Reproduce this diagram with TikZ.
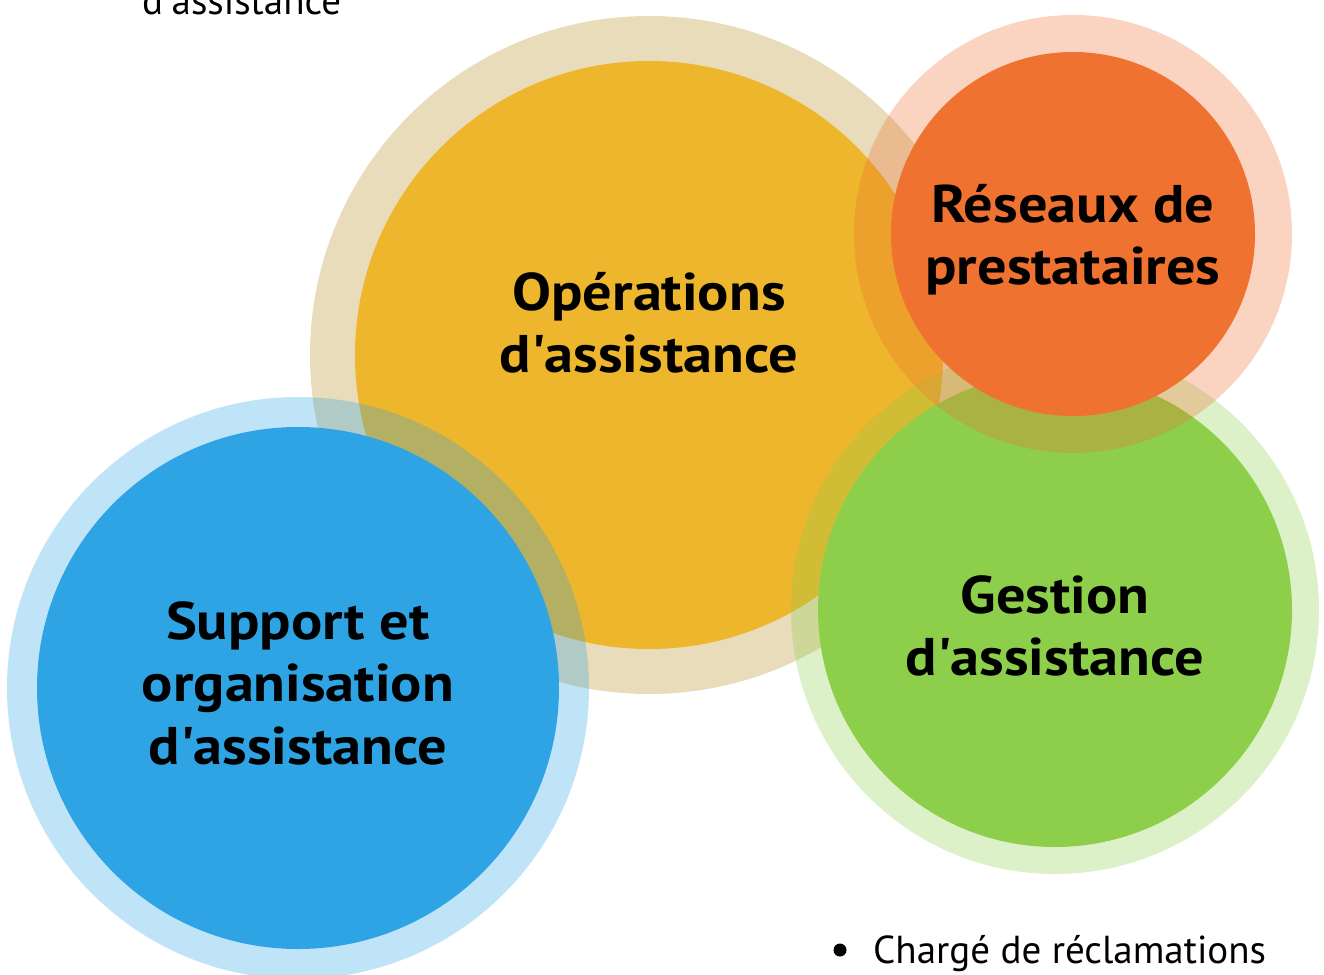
\documentclass[tikz,border=0pt]{standalone}
\usepackage{fontspec}
\setmainfont{PT Sans}
\newfontfamily\lblfont{PT Sans}[FakeStretch=1.1]
\newcommand\apos{\textquotesingle}
\definecolor{opsCore}{HTML}{EDB62C}
\definecolor{opsHalo}{HTML}{E9DCBA}
\definecolor{supCore}{HTML}{2FA4E5}
\definecolor{gesCore}{HTML}{8DCF4A}
\definecolor{resCore}{HTML}{EF7230}
\tikzset{
  halo/.style={fill=#1, fill opacity=0.3},
  core/.style={fill=#1},
  lbl/.style={anchor=base, inner sep=0pt, font=\lblfont\fontsize{53}{62}\selectfont\bfseries},
  plain/.style={inner sep=0pt, font=\fontsize{39}{47}\selectfont},
}
\begin{document}
\begin{tikzpicture}[x=1pt, y=-1pt]
\useasboundingbox (0,0) rectangle (1324,974);

% circle centres
\coordinate (ops) at (649,355);
\coordinate (sup) at (298,688);
\coordinate (ges) at (1055,610);
\coordinate (res) at (1073,234);

% Opérations d'assistance
\fill[opsHalo] (ops) circle[radius=339];
\fill[core=opsCore] (ops) circle[radius=294];

% Support et organisation d'assistance
\fill[halo=supCore] (sup) circle[radius=291];
\fill[core=supCore] (sup) circle[radius=261];

% Gestion d'assistance
\fill[halo=gesCore] (ges) circle[radius=264];
\fill[core=gesCore] (ges) circle[radius=237];

% Réseaux de prestataires
\fill[halo=resCore] (res) circle[radius=219];
\fill[core=resCore] (res) circle[radius=182];

% labels
\node[lbl] (ops1) at (649,310) {Opérations};
\node[lbl] (ops2) at (649,372) {d\apos assistance};
\node[lbl] (res1) at (1073,222) {Réseaux de};
\node[lbl] (res2) at (1073,284) {prestataires};
\node[lbl] (ges1) at (1055,613) {Gestion};
\node[lbl] (ges2) at (1055,675) {d\apos assistance};
\node[lbl] (sup1) at (298,639) {Support et};
\node[lbl] (sup2) at (298,701) {organisation};
\node[lbl] (sup3) at (298,764) {d\apos assistance};

% surrounding list text
\node[plain, anchor=base west] (topline) at (142,15) {d\apos assistance};
\node[circle, fill=black, inner sep=0pt, minimum size=13] (bullet) at (840,950) {};
\node[plain, anchor=base west] (claims) at (873,963) {Chargé de réclamations};
\end{tikzpicture}
\end{document}
